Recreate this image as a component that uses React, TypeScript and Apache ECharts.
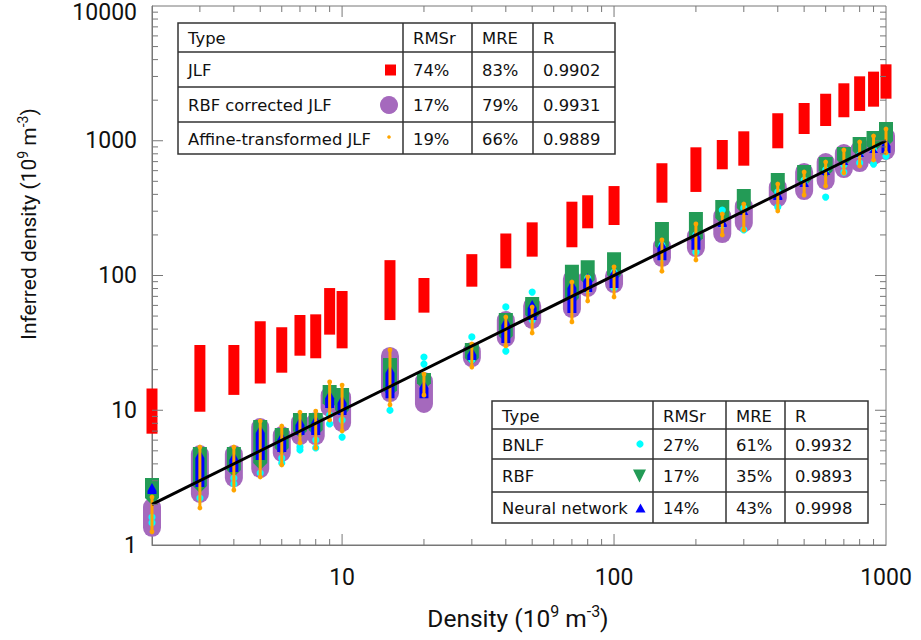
import React, { useEffect, useRef } from 'react';
import * as echarts from 'echarts';

// True densities (10^9 m^-3)
const densities = [2, 3, 4, 5, 6, 7, 8, 9, 10, 15, 20, 30, 40, 50, 70, 80, 100, 150, 200, 250, 300, 400, 500, 600, 700, 800, 900, 1000];

// JLF (red squares) spread: upper / lower
const jlfHigh = [14.5, 30.5, 30.5, 45.7, 41.3, 50.9, 51.5, 80.7, 76.7, 130, 95.8, 144, 205, 248, 353, 394, 461, 681, 894, 1013, 1175, 1600, 1907, 2233, 2669, 3007, 3258, 3692];
const jlfLow = [6.7, 9.75, 13.0, 15.8, 19.0, 25.4, 24.3, 36.4, 28.8, 46.7, 53, 82.6, 113, 138, 162, 224, 237, 347, 417, 614, 653, 879, 1122, 1286, 1494, 1664, 1790, 2052];

// RBF corrected JLF (purple circles)
const rbfJlfHigh = [2.23, 5.52, 5.52, 8.76, 7.64, 9.54, 9.70, 15.1, 14.6, 29.5, 19.2, 32.1, 54.5, 69.3, 110, 110, 116, 193, 229, 322, 382, 529, 684, 811, 946, 1013, 1066, 1265];
const rbfJlfLow = [1.15, 2.05, 2.69, 3.14, 4.13, 5.52, 5.52, 8.91, 6.90, 11.5, 9.54, 20.9, 29.5, 40.1, 48.4, 69.3, 74.1, 116, 137, 174, 210, 322, 363, 431, 529, 586, 661, 720];

// RBF (green down triangles)
const rbfHigh = [3.14, 5.34, 5.34, 8.46, 7.38, 9.54, 9.54, 15.4, 14.6, 24.4, 18.9, 31.6, 52.7, 69.3, 120, 130, 149, 250, 296, 363, 438, 576, 661, 758, 899, 1066, 1182, 1377];
const rbfLow = [1.98, 2.43, 3.20, 3.60, 4.66, 6.22, 6.33, 10.0, 8.91, 12.5, 14.1, 21.7, 31.6, 45.2, 60.4, 82.2, 89.5, 147, 168, 237, 281, 382, 454, 529, 639, 745, 811, 884];

// Neural network (blue up triangles)
const nnHigh = [2.88, 5.07, 4.90, 7.77, 6.90, 8.91, 9.22, 14.1, 13.0, 21.7, 16.8, 29.5, 49.2, 65.8, 92.6, 104, 114, 183, 218, 272, 322, 431, 529, 628, 745, 854, 899, 1048];
const nnLow = [2.39, 2.69, 3.48, 4.27, 4.90, 6.55, 6.55, 10.4, 9.22, 12.3, 12.3, 23.6, 31.6, 46.7, 52.7, 75.4, 80.8, 130, 155, 229, 281, 363, 454, 557, 661, 758, 811, 811];

// Affine-transformed JLF (orange dots)
const affineHigh = [2.35, 5.52, 5.52, 8.61, 7.91, 10.0, 10.2, 16.8, 15.9, 29.0, 19.2, 32.1, 50.9, 60.4, 92.6, 101, 120, 190, 250, 296, 351, 494, 607, 720, 884, 1013, 1122, 1265];
const affineLow = [1.21, 1.82, 2.47, 3.09, 3.79, 5.52, 5.07, 8.18, 6.78, 10.6, 12.5, 20.2, 29.0, 36.2, 43.7, 62.5, 66.9, 104, 126, 193, 210, 291, 382, 446, 557, 628, 696, 784];

// BNLF (cyan dots): visible extreme points
const bnlfUpper = [1.61, 3.60, 3.14, 4.66, 4.42, 5.34, 6.01, 9.22, 8.46, 13.7, 24.8, 35.0, 58.4, 75.4, 78.1, 95.8, 106, 168, 200, 306, 317, 417, 511, 607, 661, 784, 854, 930];
const bnlfLower = [1.46, 2.23, 2.84, 3.42, 4.06, 5.07, 5.25, 7.91, 6.33, 10.0, 22.0, 23.6, 27.5, 46.7, 59.4, 78.1, 80.8, 135, 149, 237, 218, 322, 478, 382, 586, 684, 672, 770];

// Identity reference line
const identityLine = [[2, 2], [1000, 1000]];

// Axis ticks
const xMajorTicks = [10, 100];
const xMinorTicks = [3, 4, 5, 6, 7, 8, 9, 20, 30, 40, 50, 60, 70, 80, 90, 200, 300, 400, 500, 600, 700, 800, 900];
const yMajorTicks = [10, 100, 1000];
const yMinorTicks = [2, 3, 4, 5, 6, 7, 8, 9, 20, 30, 40, 50, 60, 70, 80, 90, 200, 300, 400, 500, 600, 700, 800, 900, 2000, 3000, 4000, 5000, 6000, 7000, 8000, 9000];

// Tables
const tableHeader = ['Type', 'RMSr', 'MRE', 'R'];
const table1Rows = [
  ['JLF', '74%', '83%', '0.9902'],
  ['RBF corrected JLF', '17%', '79%', '0.9931'],
  ['Affine-transformed JLF', '19%', '66%', '0.9889'],
];
const table2Rows = [
  ['BNLF', '27%', '61%', '0.9932'],
  ['RBF', '17%', '35%', '0.9893'],
  ['Neural network', '14%', '43%', '0.9998'],
];

const RED = '#ff0000';
const PURPLE = '#a569bd';
const GREEN = '#239b56';
const BLUE = '#0000ff';
const CYAN = '#00ffff';
const ORANGE = '#ffa500';
const AXIS = '#777777';

const rangeData = (lo: number[], hi: number[]) => densities.map((d, i) => [d, lo[i], hi[i]]);

const ends = (api: any) => {
  const x = api.value(0);
  const top = api.coord([x, api.value(2)]);
  const bot = api.coord([x, api.value(1)]);
  return { cx: top[0], top: top[1], bot: bot[1] };
};

const isPow10 = (v: number) => {
  const l = Math.log10(v);
  return Math.abs(l - Math.round(l)) < 1e-6;
};

const tableGraphic = (cols: number[], rows: number[], body: string[][]) => {
  const els: any[] = [];
  const w = cols[cols.length - 1] - cols[0];
  const h = rows[rows.length - 1] - rows[0];
  els.push({ type: 'rect', z: 100, shape: { x: cols[0], y: rows[0], width: w, height: h }, style: { fill: '#fff', stroke: '#333', lineWidth: 1.5 } });
  for (let r = 1; r < rows.length - 1; r++) {
    els.push({ type: 'line', z: 101, shape: { x1: cols[0], y1: rows[r], x2: cols[cols.length - 1], y2: rows[r] }, style: { stroke: '#333', lineWidth: 1.5 } });
  }
  for (let c = 1; c < cols.length - 1; c++) {
    els.push({ type: 'line', z: 101, shape: { x1: cols[c], y1: rows[0], x2: cols[c], y2: rows[rows.length - 1] }, style: { stroke: '#333', lineWidth: 1.5 } });
  }
  const all = [tableHeader, ...body];
  all.forEach((row, r) => {
    row.forEach((txt, c) => {
      els.push({
        type: 'text', z: 102,
        x: cols[c] + 10, y: (rows[r] + rows[r + 1]) / 2 + 1,
        style: { text: txt, fontFamily: 'DejaVu Sans', fontSize: 16.4, fill: '#111', align: 'left', verticalAlign: 'middle' },
      });
    });
  });
  return els;
};

const titleRich = {
  a: { fontFamily: 'Roboto', fontSize: 24.5, fill: '#111', lineHeight: 30 },
  s: { fontFamily: 'Roboto', fontSize: 16, fill: '#111', verticalAlign: 'top', lineHeight: 18 },
} as any;
const titleRichY = {
  a: { fontFamily: 'Roboto', fontSize: 21, fill: '#111', lineHeight: 26 },
  s: { fontFamily: 'Roboto', fontSize: 14, fill: '#111', verticalAlign: 'top', lineHeight: 16 },
} as any;

const yLabelFmt = (v: number) => {
  if (!isPow10(v)) return '';
  const s = String(Math.round(v));
  return v >= 9999 ? `{top|${s}}` : s;
};

const option: any = {
  animation: false,
  grid: { left: 152, top: 6, right: 35, bottom: 95, show: true, borderColor: AXIS, borderWidth: 1 },
  xAxis: {
    type: 'log', logBase: 10, min: 2, max: 1000,
    axisTick: { show: false }, splitLine: { show: false }, minorTick: { show: false },
    axisLine: { show: true, lineStyle: { color: AXIS, width: 1 } },
    axisLabel: { formatter: (v: number) => (isPow10(v) ? String(Math.round(v)) : ''), fontFamily: 'Roboto', fontSize: 23, color: '#111', margin: 21 },
  },
  yAxis: {
    type: 'log', logBase: 10, min: 1, max: 10000,
    axisTick: { show: false }, splitLine: { show: false }, minorTick: { show: false },
    axisLine: { show: true, lineStyle: { color: AXIS, width: 1 } },
    axisLabel: {
      formatter: yLabelFmt, fontFamily: 'Roboto', fontSize: 23, color: '#111', margin: 15,
      rich: { top: { fontFamily: 'Roboto', fontSize: 23, color: '#111', padding: [12, 0, 0, 0] } },
    },
  },
  series: [
    {
      name: 'JLF', type: 'custom', z: 1, data: rangeData(jlfLow, jlfHigh), encode: { x: 0, y: [1, 2] },
      renderItem: (_p: any, api: any) => {
        const e = ends(api);
        return { type: 'rect', shape: { x: e.cx - 5.5, y: e.top, width: 11, height: e.bot - e.top }, style: { fill: RED } };
      },
    },
    {
      name: 'RBF corrected JLF', type: 'custom', z: 2, data: rangeData(rbfJlfLow, rbfJlfHigh), encode: { x: 0, y: [1, 2] },
      renderItem: (_p: any, api: any) => {
        const e = ends(api);
        return { type: 'rect', shape: { x: e.cx - 9, y: e.top, width: 18, height: e.bot - e.top, r: 9 }, style: { fill: PURPLE } };
      },
    },
    {
      name: 'RBF', type: 'custom', z: 3, data: rangeData(rbfLow, rbfHigh), encode: { x: 0, y: [1, 2] },
      renderItem: (_p: any, api: any) => {
        const e = ends(api);
        const t = Math.min(7, (e.bot - e.top) / 2);
        return {
          type: 'polygon',
          shape: { points: [[e.cx - 7, e.top], [e.cx + 7, e.top], [e.cx + 7, e.bot - t], [e.cx, e.bot], [e.cx - 7, e.bot - t]] },
          style: { fill: GREEN },
        };
      },
    },
    {
      name: 'BNLF', type: 'custom', z: 4, data: rangeData(bnlfLower, bnlfUpper), encode: { x: 0, y: [1, 2] },
      renderItem: (_p: any, api: any) => {
        const e = ends(api);
        return {
          type: 'group',
          children: [
            { type: 'circle', shape: { cx: e.cx, cy: e.top, r: 3.6 }, style: { fill: CYAN } },
            { type: 'circle', shape: { cx: e.cx, cy: e.bot, r: 3.6 }, style: { fill: CYAN } },
          ],
        };
      },
    },
    {
      name: 'Neural network', type: 'custom', z: 5, data: rangeData(nnLow, nnHigh), encode: { x: 0, y: [1, 2] },
      renderItem: (_p: any, api: any) => {
        const e = ends(api);
        const t = Math.min(8, e.bot - e.top);
        return {
          type: 'polygon',
          shape: { points: [[e.cx, e.top], [e.cx + 4.5, e.top + t], [e.cx + 4.5, e.bot], [e.cx - 4.5, e.bot], [e.cx - 4.5, e.top + t]] },
          style: { fill: BLUE },
        };
      },
    },
    {
      name: 'Affine-transformed JLF', type: 'custom', z: 6, data: rangeData(affineLow, affineHigh), encode: { x: 0, y: [1, 2] },
      renderItem: (_p: any, api: any) => {
        const e = ends(api);
        return {
          type: 'group',
          children: [
            { type: 'line', shape: { x1: e.cx, y1: e.top + 2, x2: e.cx, y2: e.bot - 2 }, style: { stroke: ORANGE, lineWidth: 3 } },
            { type: 'circle', shape: { cx: e.cx, cy: e.top + 2, r: 2.4 }, style: { fill: ORANGE } },
            { type: 'circle', shape: { cx: e.cx, cy: e.bot - 2, r: 2.4 }, style: { fill: ORANGE } },
          ],
        };
      },
    },
    {
      name: 'identity', type: 'line', z: 7, data: identityLine, symbol: 'none', silent: true,
      lineStyle: { color: '#000', width: 3 },
    },
    {
      name: 'xticks', type: 'custom', z: 8, silent: true,
      data: [...xMajorTicks.map((v) => [v, 1, 11]), ...xMinorTicks.map((v) => [v, 1, 6])],
      encode: { x: 0, y: 1 },
      renderItem: (params: any, api: any) => {
        const px = api.coord([api.value(0), 1])[0];
        const len = api.value(2);
        const cs = params.coordSys;
        const b = cs.y + cs.height;
        return {
          type: 'group',
          children: [
            { type: 'line', shape: { x1: px, y1: b, x2: px, y2: b - len }, style: { stroke: AXIS, lineWidth: 1 } },
            { type: 'line', shape: { x1: px, y1: cs.y, x2: px, y2: cs.y + len }, style: { stroke: AXIS, lineWidth: 1 } },
          ],
        };
      },
    },
    {
      name: 'yticks', type: 'custom', z: 8, silent: true,
      data: [...yMajorTicks.map((v) => [2, v, 11]), ...yMinorTicks.map((v) => [2, v, 6])],
      encode: { x: 0, y: 1 },
      renderItem: (params: any, api: any) => {
        const py = api.coord([2, api.value(1)])[1];
        const len = api.value(2);
        const cs = params.coordSys;
        const r = cs.x + cs.width;
        return {
          type: 'group',
          children: [
            { type: 'line', shape: { x1: cs.x, y1: py, x2: cs.x + len, y2: py }, style: { stroke: AXIS, lineWidth: 1 } },
            { type: 'line', shape: { x1: r, y1: py, x2: r - len, y2: py }, style: { stroke: AXIS, lineWidth: 1 } },
          ],
        };
      },
    },
  ],
  graphic: [
    ...tableGraphic([178, 403, 472, 533, 615], [23, 52, 87, 122, 154], table1Rows),
    ...tableGraphic([492, 653, 726, 785, 868], [401, 429, 459, 492, 523], table2Rows),
    // table legend markers
    { type: 'rect', z: 103, shape: { x: 385, y: 64.5, width: 11, height: 11 }, style: { fill: RED } },
    { type: 'circle', z: 103, shape: { cx: 389, cy: 105, r: 9 }, style: { fill: PURPLE } },
    { type: 'circle', z: 103, shape: { cx: 389, cy: 137, r: 1.8 }, style: { fill: ORANGE } },
    { type: 'circle', z: 103, shape: { cx: 640, cy: 444, r: 3.6 }, style: { fill: CYAN } },
    { type: 'polygon', z: 103, shape: { points: [[633, 469.5], [646, 469.5], [639.5, 482.5]] }, style: { fill: GREEN } },
    { type: 'polygon', z: 103, shape: { points: [[640.5, 503.5], [645.5, 512.5], [635.5, 512.5]] }, style: { fill: BLUE } },
    // axis titles
    {
      type: 'text', z: 103, x: 518, y: 618,
      style: { text: '{a|Density (10}{s|9}{a| m}{s|-3}{a|)}', rich: titleRich, align: 'center', verticalAlign: 'middle' },
    },
    {
      type: 'text', z: 103, x: 29, y: 224, rotation: Math.PI / 2,
      style: { text: '{a|Inferred density (10}{s|9}{a| m}{s|-3}{a|)}', rich: titleRichY, align: 'center', verticalAlign: 'middle' },
    },
  ],
};

export default function App() {
  const ref = useRef<HTMLDivElement>(null);
  useEffect(() => {
    document.body.style.margin = '0';
    const chart = echarts.init(ref.current as HTMLDivElement, undefined, { renderer: 'svg' });
    chart.setOption(option);
    return () => chart.dispose();
  }, []);
  return <div ref={ref} style={{ width: 921, height: 640 }} />;
}
